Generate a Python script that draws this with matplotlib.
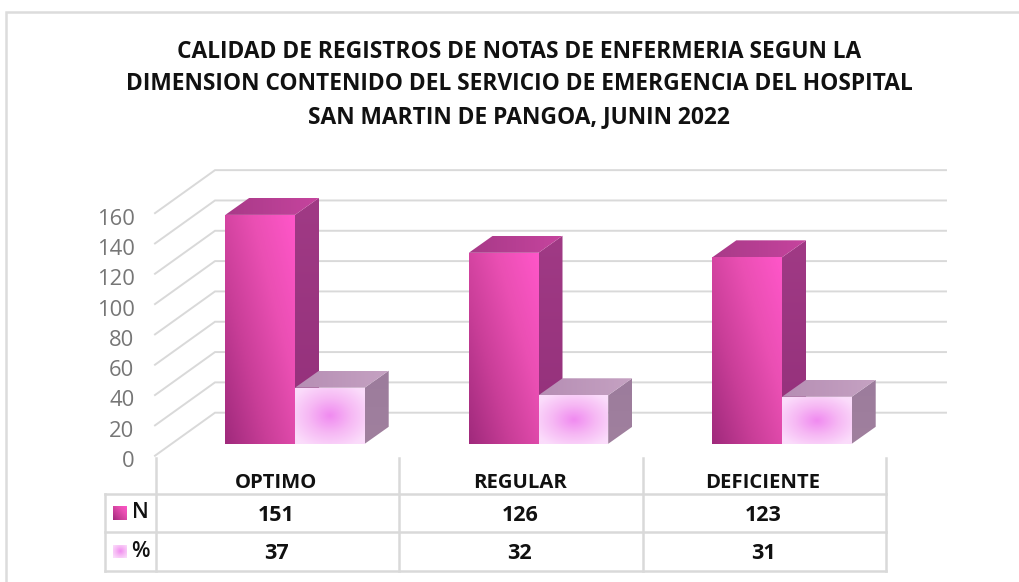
import numpy as np
import matplotlib
matplotlib.use("Agg")
import matplotlib.pyplot as plt
from matplotlib.colors import LinearSegmentedColormap
from matplotlib.patches import Polygon

categories = ["OPTIMO", "REGULAR", "DEFICIENTE"]
series_names = ["N", "%"]
n_values = [151, 126, 123]
pct_values = [37, 32, 31]
y_ticks = [0, 20, 40, 60, 80, 100, 120, 140, 160]
title = ("CALIDAD DE REGISTROS DE NOTAS DE ENFERMERIA SEGUN LA\n"
         "DIMENSION CONTENIDO DEL SERVICIO DE EMERGENCIA DEL HOSPITAL\n"
         "SAN MARTIN DE PANGOA, JUNIN 2022")

W, H = 1019, 582
# scale: pixels per category / per value
PX_CAT, PX_VAL = 243.5, 1.516
X0, Y0 = 295.0, 443.8      # pixel of category 0 centre / value 0 on the bar plane

fig = plt.figure(figsize=(W / 100, H / 100), dpi=100, facecolor="white")
ax = fig.add_axes([0, 0, 1, 1])

def reset_limits():
    ax.set_xlim(-X0 / PX_CAT, (W - X0) / PX_CAT)
    ax.set_ylim((Y0 - H) / PX_VAL, Y0 / PX_VAL)

reset_limits()
ax.axis("off")

def dx(px): return px / PX_CAT
def dy(px): return px / PX_VAL
def px(x): return (x - X0) / PX_CAT
def py(y): return (Y0 - y) / PX_VAL

FONT = "Open Sans"
GRID = "#d9d9d9"
INK = "#111111"

# frame: only left and top edges are inside the crop
ax.plot([px(6), px(6), px(W + 2)], [py(H + 2), py(12.4), py(12.4)],
        color="#dcdcdc", lw=1.8, zorder=0, solid_joinstyle="miter")

# walls: gridlines, offset from front plane to bar plane and back
front_x, back_x, right_x = px(155), px(215), px(946)
front_off, back_off = dy(11.9), -dy(31.1)
for t in y_ticks:
    ax.plot([front_x, back_x, right_x],
            [t - front_off, t - back_off, t - back_off],
            color=GRID, lw=1.4, zorder=1, solid_joinstyle="miter")
    ax.text(px(134.5), t - front_off - dy(3.4), str(t), ha="right", va="center_baseline",
            fontsize=15.8, color="#767676", family=FONT, zorder=5)

N_CMAP = LinearSegmentedColormap.from_list("n", ["#a02a7c", "#c93e98", "#ea4fb3", "#ff56c9"])
NSIDE = LinearSegmentedColormap.from_list("ns", ["#93307a", "#a03a85"])
NTOP = LinearSegmentedColormap.from_list("nt", ["#a83a88", "#c6449e"])
P_CMAP = LinearSegmentedColormap.from_list("p", ["#f08af0", "#f6b8f4", "#fbdcfb"])
PSIDE = LinearSegmentedColormap.from_list("ps", ["#a0809e", "#9c7c9c"])
PTOP = LinearSegmentedColormap.from_list("pt", ["#b68eb4", "#c5a2c2"])

def fill(verts, arr, cmap, z):
    verts = np.array(verts)
    poly = Polygon(verts, closed=True, fc="none", ec="none", zorder=z)
    ax.add_patch(poly)
    ext = (verts[:, 0].min(), verts[:, 0].max(), verts[:, 1].min(), verts[:, 1].max())
    im = ax.imshow(arr, extent=ext, origin="lower", cmap=cmap, vmin=0, vmax=1,
                   aspect="auto", zorder=z, interpolation="bilinear")
    im.set_clip_path(poly)

u, v = np.meshgrid(np.linspace(0, 1, 64), np.linspace(0, 1, 64))
diag = np.clip((u * 0.55 + v * 0.45), 0, 1)
horiz = u
vert = v
radial = np.clip(np.hypot(u - 0.5, v - 0.5) / 0.62, 0, 1)

def bar3d(x0, width, value, front_arr, front_cmap, side_cmap, top_cmap, z):
    x1 = x0 + width
    ddx, ddy = dx(24), dy(17)
    fill([(x1, 0), (x1 + ddx, ddy), (x1 + ddx, value + ddy), (x1, value)], vert, side_cmap, z)
    fill([(x0, value), (x1, value), (x1 + ddx, value + ddy), (x0 + ddx, value + ddy)], horiz, top_cmap, z)
    fill([(x0, 0), (x1, 0), (x1, value), (x0, value)], front_arr, front_cmap, z + 0.5)

BAR_W = 69.7 / PX_CAT
for i in range(len(categories)):
    bar3d(i - BAR_W, BAR_W, n_values[i], diag, N_CMAP, NSIDE, NTOP, 3)
    bar3d(i, BAR_W, pct_values[i], radial, P_CMAP, PSIDE, PTOP, 4)

# data table
col_x = [156 + 243.3 * i for i in range(4)]
rows_y = [493.5, 532.3, 570.5]
for cx in col_x:
    ax.plot([px(cx), px(cx)], [py(458), py(570.5)], color=GRID, lw=1.8, zorder=2)
ax.plot([px(105), px(105)], [py(493.5), py(570.5)], color=GRID, lw=1.8, zorder=2)
for ry in rows_y:
    ax.plot([px(105), px(col_x[-1])], [py(ry), py(ry)], color=GRID, lw=1.8, zorder=2)

for i, c in enumerate(categories):
    xc = px(col_x[i] + 120.5)
    ax.text(xc, py(482.5), c, ha="center", va="center", fontsize=14.6, fontweight="bold",
            family=FONT, color=INK)
    ax.text(xc, py(515.5), str(n_values[i]), ha="center", va="center", fontsize=15.5,
            fontweight="bold", family=FONT, color=INK)
    ax.text(xc, py(553.5), str(pct_values[i]), ha="center", va="center", fontsize=15.5,
            fontweight="bold", family=FONT, color=INK)

# legend keys
for ky, arr, cm, name in [(513, diag, N_CMAP, series_names[0]), (551.5, radial, P_CMAP, series_names[1])]:
    l, r, t, b = px(112.5), px(127), py(ky - 7), py(ky + 7)
    fill([(l, b), (r, b), (r, t), (l, t)], arr, cm, 3)
    ax.text(px(140.5), py(ky), name, ha="center", va="center", fontsize=15.5,
            family=FONT, color=INK, fontweight="semibold")

ax.text(px(519), py(84.5), title, ha="center", va="center", fontsize=16.4, fontweight="bold",
        family=FONT, color=INK, linespacing=1.48)

reset_limits()
fig.savefig("out.png", dpi=100, facecolor="white")
